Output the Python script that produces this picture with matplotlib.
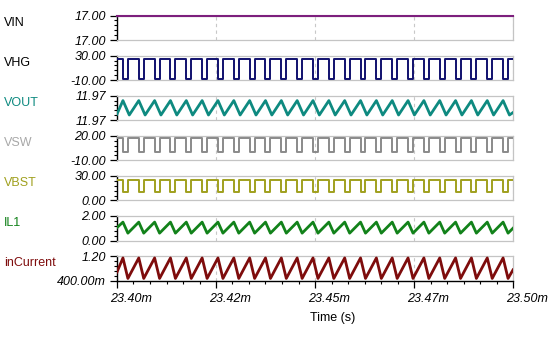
import numpy as np
import matplotlib.pyplot as plt
import matplotlib.transforms as mtransforms
from matplotlib.ticker import FixedLocator, AutoMinorLocator

plt.rcParams['font.family'] = ['Liberation Sans', 'DejaVu Sans']

# time window in ms, switching edges below are in us after 23.40 ms
t_start = 23.40
t_stop = 23.50

# high side off (VHG low) start / end, us
off_start = [1.5, 5.5, 9.5, 13.5, 17.5, 21.5, 25.5, 29.5, 33.5, 37.5, 41.5, 45.5, 49.5,
             53.5, 57.5, 61.5, 65.5, 69.5, 73.5, 77.5, 81.5, 85.5, 89.5, 93.5, 97.5]
off_end = [2.75, 6.75, 10.75, 14.75, 18.75, 22.75, 26.75, 30.75, 34.75, 38.75, 42.75,
           46.75, 50.75, 54.75, 58.75, 62.75, 66.75, 70.75, 74.75, 78.75, 82.75, 86.75,
           90.75, 94.75, 98.75]
# VOUT ripple bottoms, us
vout_dip = [3.1, 7.1, 11.1, 15.1, 19.1, 23.1, 27.1, 31.1, 35.1, 39.1, 43.1, 47.1, 51.1,
            55.1, 59.1, 63.1, 67.1, 71.1, 75.1, 79.1, 83.1, 87.1, 91.1, 95.1, 99.1]

# levels
vin_level = 17.0
vhg_hi, vhg_lo = 25.0, -8.0
vsw_hi, vsw_lo = 17.0, 0.5
vbst_hi, vbst_lo = 24.5, 10.0
il1_peak, il1_valley = 1.50, 0.60
il1_first, il1_last = 1.05, 1.00
iin_peak, iin_valley = 1.14, 0.47
iin_first, iin_last = 0.68, 0.75
vout_peak, vout_valley = 11.9729, 11.9682
vout_first, vout_last = 11.9685, 11.9690

names = ['VIN', 'VHG', 'VOUT', 'VSW', 'VBST', 'IL1', 'inCurrent']
colors = ['#7d1f7d', '#10106e', '#0e8a80', '#8a8a8a', '#a0a01e', '#12821a', '#7e0c0c']
label_colors = ['#000000', '#000000', '#0e8a80', '#a8a8a8', '#a0a01e', '#12821a', '#7e0c0c']
ylims = [(16.996, 17.0), (-10, 30), (11.9665, 11.9745), (-10, 20), (0, 30), (0, 2), (0.4, 1.2)]
ytick_labels = [['17.00', '17.00'], ['-10.00', '30.00'], ['11.97', '11.97'],
                ['-10.00', '20.00'], ['0.00', '30.00'], ['0.00', '2.00'], ['400.00m', '1.20']]
xtick_vals = [23.400, 23.425, 23.450, 23.475, 23.500]
xtick_labels = ['23.40m', '23.42m', '23.45m', '23.47m', '23.50m']


def square(hi, lo):
    t = [0.0]
    v = [hi]
    for s, e in zip(off_start, off_end):
        t += [s, s, e, e]
        v += [hi, lo, lo, hi]
    t.append(100.0)
    v.append(hi)
    return t, v


def ramp(first, peak_t, peak, low_t, low, last):
    t = [0.0]
    v = [first]
    for p, q in zip(peak_t, low_t):
        t += [p, q]
        v += [peak, low]
    t.append(100.0)
    v.append(last)
    return t, v


waves = [
    ([0.0, 100.0], [vin_level, vin_level]),
    square(vhg_hi, vhg_lo),
    ramp(vout_first, off_start, vout_peak, vout_dip, vout_valley, vout_last),
    square(vsw_hi, vsw_lo),
    square(vbst_hi, vbst_lo),
    ramp(il1_first, off_start, il1_peak, off_end, il1_valley, il1_last),
    ramp(iin_first, off_start, iin_peak, off_end, iin_valley, iin_last),
]
widths = [1.5, 1.4, 2.0, 1.4, 1.4, 2.0, 2.0]

W, H = 550.0, 337.0
fig = plt.figure(figsize=(5.5, 3.37), dpi=100)
fig.patch.set_facecolor('white')

for i in range(7):
    top = 15.5 + 40.1 * i
    ax = fig.add_axes([117 / W, 1 - (top + 24.5) / H, 396 / W, 24.5 / H])
    t, v = waves[i]
    x = t_start + np.array(t) / 1000.0
    ax.plot(x, v, color=colors[i], lw=widths[i], clip_on=(i != 0), zorder=3)
    ax.set_xlim(t_start, t_stop)
    ax.set_ylim(*ylims[i])

    for side in ['top', 'right', 'bottom']:
        ax.spines[side].set_color('#c4c4c4')
        ax.spines[side].set_linewidth(0.9)
    ax.spines['left'].set_color('black')
    ax.spines['left'].set_linewidth(1.0)

    ax.set_yticks(list(ylims[i]))
    ax.set_yticklabels(ytick_labels[i], fontsize=9, style='italic')
    ax.yaxis.set_minor_locator(AutoMinorLocator(5))
    ax.tick_params(axis='y', which='major', length=5, width=0.9, pad=3)
    ax.tick_params(axis='y', which='minor', length=2.5, width=0.8)

    ax.xaxis.set_major_locator(FixedLocator(xtick_vals))
    ax.grid(True, axis='x', color='#c8c8c8', linestyle=(0, (3, 3)), linewidth=0.8)

    if i == 6:
        ax.spines['bottom'].set_color('black')
        ax.spines['bottom'].set_linewidth(1.0)
        ax.set_xticklabels(xtick_labels, fontsize=9, style='italic')
        ax.xaxis.set_minor_locator(AutoMinorLocator(6))
        ax.tick_params(axis='x', which='major', length=5, width=0.9, pad=4)
        ax.tick_params(axis='x', which='minor', length=2.5, width=0.8)
        # labels sit a bit right of their tick, like the original
        shift = mtransforms.ScaledTranslation(-7 / 100, 0, fig.dpi_scale_trans)
        for lab in ax.get_xticklabels():
            lab.set_horizontalalignment('left')
            lab.set_transform(lab.get_transform() + shift)
        ax.set_xlabel('Time (s)', fontsize=9)
        ax.xaxis.set_label_coords(333 / W, 1 - 318 / H, transform=fig.transFigure)
        ax.xaxis.label.set_verticalalignment('center')
    else:
        ax.tick_params(axis='x', which='both', length=0, labelbottom=False)

    fig.text(4 / W, 1 - (top + 7) / H, names[i], color=label_colors[i], fontsize=9,
             ha='left', va='center')

fig.savefig('out.png', dpi=100)
